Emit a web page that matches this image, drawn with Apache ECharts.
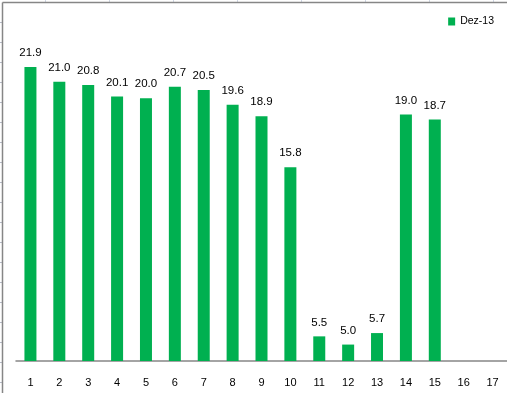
<!DOCTYPE html>
<html>
<head>
<meta charset="utf-8">
<script src="https://cdn.jsdelivr.net/npm/echarts@6/dist/echarts.min.js"></script>
<style>
html,body{margin:0;padding:0;background:#fff;}
#c{width:507px;height:393px;}
</style>
</head>
<body>
<div id="c"></div>
<script>
const categories = ['1','2','3','4','5','6','7','8','9','10','11','12','13','14','15','16','17'];
const seriesName = 'Dez-13';
const values = [21.9, 21.0, 20.8, 20.1, 20.0, 20.7, 20.5, 19.6, 18.9, 15.8, 5.5, 5.0, 5.7, 19.0, 18.7, null, null];
const yMin = 4;
const yMax = 25;

const chart = echarts.init(document.getElementById('c'), null, {renderer: 'canvas'});

// spreadsheet gridline stubs + chart border (decoration only)
const deco = [];
for (let x = 45; x < 507; x += 64) {
  deco.push({type: 'line', shape: {x1: x + 0.5, y1: 0, x2: x + 0.5, y2: 2}, style: {stroke: '#d0d7e5', lineWidth: 1}, silent: true});
}
for (let y = 22.5; y < 393; y += 20) {
  deco.push({type: 'line', shape: {x1: 0, y1: y, x2: 2, y2: y}, style: {stroke: '#b8bcc8', lineWidth: 1}, silent: true});
}
deco.push({type: 'line', shape: {x1: 2.5, y1: 2.5, x2: 507, y2: 2.5}, style: {stroke: '#868686', lineWidth: 1.5}, silent: true});
deco.push({type: 'line', shape: {x1: 2.5, y1: 2.5, x2: 2.5, y2: 393}, style: {stroke: '#868686', lineWidth: 1.5}, silent: true});

chart.setOption({
  animation: false,
  backgroundColor: '#ffffff',
  textStyle: {fontFamily: 'Liberation Sans, Arial, sans-serif'},
  graphic: deco,
  legend: {
    data: [seriesName],
    right: 13,
    top: 16,
    padding: 0,
    itemWidth: 7,
    itemHeight: 8,
    itemGap: 5,
    icon: 'rect',
    textStyle: {fontSize: 10.5, color: '#000', fontFamily: 'Liberation Sans, Arial, sans-serif'}
  },
  grid: {left: 16, top: 16, width: 497, height: 345, containLabel: false},
  xAxis: {
    type: 'category',
    data: categories,
    axisLine: {show: true, lineStyle: {color: '#868686', width: 1.5}},
    axisTick: {show: false},
    axisLabel: {fontSize: 11, color: '#000', margin: 16, interval: 0, fontFamily: 'Liberation Sans, Arial, sans-serif'},
    splitLine: {show: false}
  },
  yAxis: {
    type: 'value',
    min: yMin,
    max: yMax,
    show: false,
    splitLine: {show: false}
  },
  series: [{
    name: seriesName,
    type: 'bar',
    data: values,
    barWidth: 12,
    itemStyle: {color: '#00B050'},
    label: {
      show: true,
      position: 'top',
      distance: 8,
      fontSize: 11.5,
      color: '#000',
      fontFamily: 'Liberation Sans, Arial, sans-serif',
      formatter: p => (p.value == null ? '' : Number(p.value).toFixed(1))
    }
  }]
});
</script>
</body>
</html>
